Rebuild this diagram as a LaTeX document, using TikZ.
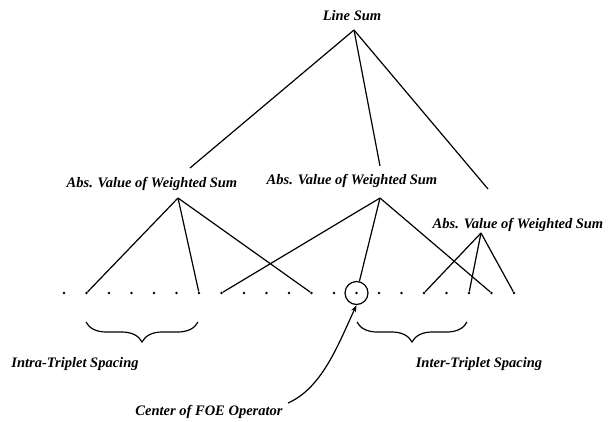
\documentclass[tikz,border=0pt]{standalone}
\usepackage{fontspec}
\setmainfont{Liberation Serif}
\usetikzlibrary{decorations.pathreplacing,arrows.meta}
\begin{document}
\begin{tikzpicture}[x=1pt,y=-1pt,
  lbl/.style={font=\fontsize{14.5}{16}\selectfont\bfseries\itshape, inner sep=0pt},
  dotnode/.style={circle, fill=black, inner sep=0pt, minimum size=2.8pt},
  edge/.style={line width=1.2pt, black},
  bracestyle/.style={line width=1.2pt, decorate, decoration={brace, amplitude=20pt, aspect=0.5, mirror}},
  ringnode/.style={ellipse, draw, line width=1.2pt, minimum width=22pt, minimum height=24pt, inner sep=0pt}]
\useasboundingbox (0,0) rectangle (610,421);
% dots
\foreach \i in {0,...,20} {
  \node[dotnode] (d\i) at ({64+22.5*\i},293) {};
}
\node[circle, draw, line width=1.2pt, minimum size=23pt, inner sep=0pt] (ring) at (d13) {};
% labels
\node[lbl] (ls) at (352,16) {Line Sum};
\node[lbl] (ab1) at (152,184) {Abs. Value of Weighted Sum};
\node[lbl] (ab2) at (352,181) {Abs. Value of Weighted Sum};
\node[lbl] (ab3) at (518,225) {Abs. Value of Weighted Sum};
\node[lbl] (intra) at (75,364) {Intra-Triplet Spacing};
\node[lbl] (inter) at (479,364) {Inter-Triplet Spacing};
\node[lbl] (foe) at (209,412) {Center of FOE Operator};
% apex coordinates
\coordinate (lsa) at (354,30);
\coordinate (t1) at (190,168);
\coordinate (t2) at (380,166);
\coordinate (t3) at (488,189);
\coordinate (a1) at (178,198);
\coordinate (a2) at (380,198);
\coordinate (a3) at (481,233);
% line sum connections
\draw[edge] (lsa) -- (t1);
\draw[edge] (lsa) -- (t2);
\draw[edge] (lsa) -- (t3);
% triplets
\draw[edge] (a1) -- (d1);
\draw[edge] (a1) -- (d6);
\draw[edge] (a1) -- (d11);
\draw[edge] (a2) -- (d7);
\draw[edge] (a2) -- (ring);
\draw[edge] (a2) -- (d19);
\draw[edge] (a3) -- (d16);
\draw[edge] (a3) -- (d18);
\draw[edge] (a3) -- (d20);
% braces
\coordinate (b1l) at (86,322);
\coordinate (b1r) at (198,322);
\coordinate (b2l) at (357,322);
\coordinate (b2r) at (467,322);
\draw[bracestyle] (b1l) -- (b1r);
\draw[bracestyle] (b2l) -- (b2r);
% arrow
\coordinate (tail) at (288,403);
\draw[edge, -{Stealth[length=7pt,width=5pt]}] (tail) .. controls (322,388) and (338,345) .. (ring.south);
\end{tikzpicture}
\end{document}
